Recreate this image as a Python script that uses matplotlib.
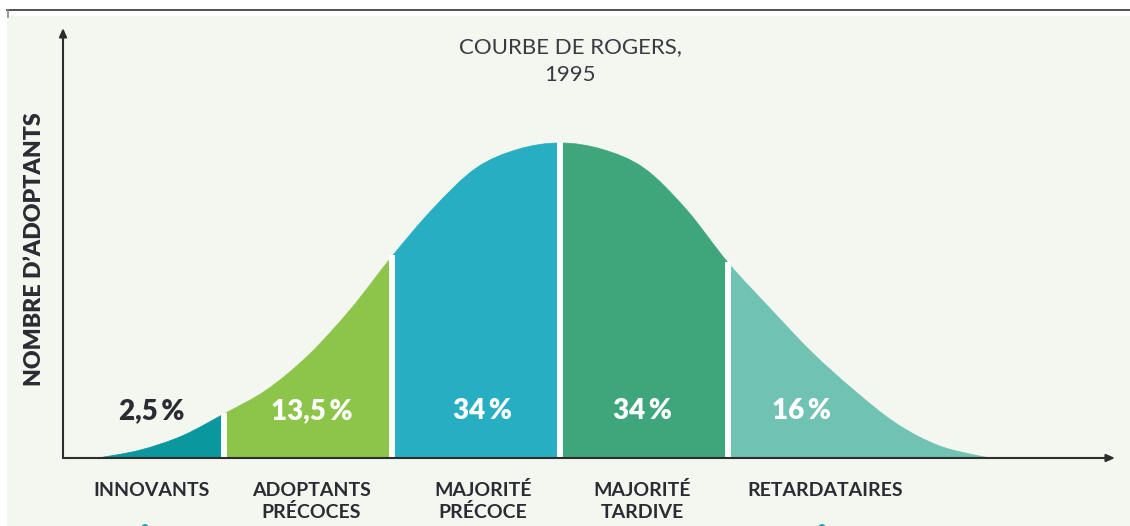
import matplotlib
matplotlib.use("Agg")
import matplotlib.pyplot as plt
from matplotlib.path import Path
from matplotlib.patches import PathPatch, Rectangle, Ellipse

plt.rcParams["font.family"] = ["Lato", "DejaVu Sans"]

# courbe : position (en écarts-types) et nombre relatif d'adoptants
sigma_pos = [-2.75, -2.5, -2.25, -2.0, -1.75, -1.5, -1.25, -1.0, -0.75, -0.5, -0.25, 0.0,
             0.25, 0.5, 0.75, 1.0, 1.25, 1.5, 1.75, 2.0, 2.25, 2.5, 2.6]
adoptants = [0.0, 2.5, 7.0, 14.0, 21.5, 32.5, 47.0, 64.0, 79.5, 92.0, 98.0, 100.0,
             98.0, 92.0, 79.0, 62.0, 47.5, 33.5, 21.5, 11.0, 4.0, 0.6, 0.0]

categories = ["INNOVANTS", "ADOPTANTS\nPRÉCOCES", "MAJORITÉ\nPRÉCOCE", "MAJORITÉ\nTARDIVE", "RETARDATAIRES"]
parts = ["2,5\u2009%", "13,5\u2009%", "34\u2009%", "34\u2009%", "16\u2009%"]
limites = [-2.0, -1.0, 0.0, 1.0]
couleurs = ["#0a979e", "#8cc54a", "#27aec3", "#3ea67a", "#70c2b3"]

BG = "#f4f6f0"
INK = "#2b2b33"

W, H = 1130, 526
fig = plt.figure(figsize=(W / 100, H / 100), dpi=100, facecolor="white")

# fond de la capture d'écran
fig.patches.append(Rectangle((7 / W, 0), 1 - 7 / W, (H - 16) / H, transform=fig.transFigure,
                             facecolor=BG, edgecolor="none", zorder=-5))
fig.add_artist(plt.Line2D([7 / W, 1], [1 - 9.5 / H, 1 - 9.5 / H], transform=fig.transFigure,
                          color="#333333", lw=1.2, zorder=-4))
fig.add_artist(plt.Line2D([7.5 / W, 7.5 / W], [1 - 9.5 / H, 1 - 17 / H], transform=fig.transFigure,
                          color="#888888", lw=1.2, zorder=-4))
for cx in [145, 822]:
    fig.patches.append(Ellipse((cx / W, -2 / H), 8 / W, 8 / H, transform=fig.transFigure,
                               facecolor="#2aa7b5", edgecolor="none", zorder=-4))

# axes : origine à (63, 458) px
x0, x1, ytop, ybase = 63, 1115, 28, 458
ax = fig.add_axes([x0 / W, (H - ybase) / H, (x1 - x0) / W, (ybase - ytop) / H])
ax.set_facecolor("none")
px_per_sigma = 168.0
px_per_unit = 3.15
ax.set_xlim((x0 - 560) / px_per_sigma, (x1 - 560) / px_per_sigma)
ax.set_ylim(0, (ybase - ytop) / px_per_unit)
ax.axis("off")


def tangent(i):
    a = max(i - 1, 0)
    b = min(i + 1, len(sigma_pos) - 1)
    return ((sigma_pos[b] - sigma_pos[a]) / 6, (adoptants[b] - adoptants[a]) / 6)


def segment_path(i0, i1):
    verts = [(sigma_pos[i0], 0), (sigma_pos[i0], adoptants[i0])]
    codes = [Path.MOVETO, Path.LINETO]
    for i in range(i0, i1):
        t0 = tangent(i)
        t1 = tangent(i + 1)
        verts += [(sigma_pos[i] + t0[0], adoptants[i] + t0[1]),
                  (sigma_pos[i + 1] - t1[0], adoptants[i + 1] - t1[1]),
                  (sigma_pos[i + 1], adoptants[i + 1])]
        codes += [Path.CURVE4] * 3
    verts += [(sigma_pos[i1], 0), (sigma_pos[i0], 0)]
    codes += [Path.LINETO, Path.CLOSEPOLY]
    return Path(verts, codes)


bornes = [0] + [sigma_pos.index(b) for b in limites] + [len(sigma_pos) - 1]
for k, c in enumerate(couleurs):
    ax.add_patch(PathPatch(segment_path(bornes[k], bornes[k + 1]), facecolor=c,
                           edgecolor=c, lw=0.5, zorder=2))

for b in limites:
    i = sigma_pos.index(b)
    ax.plot([b, b], [0, adoptants[i] + 0.3], color="white", lw=4.3, zorder=3,
            solid_capstyle="butt")

# flèches des axes
arrow = dict(arrowstyle="-|>,head_length=0.5,head_width=0.22", color="#2d2d2d", lw=1.5,
             shrinkA=0, shrinkB=0)
ax.annotate("", xy=(1, 0), xytext=(0, 0), xycoords="axes fraction", arrowprops=arrow, zorder=5)
ax.annotate("", xy=(0, 1), xytext=(0, 0), xycoords="axes fraction", arrowprops=arrow, zorder=5)

# étiquettes
pct_x = [-2.43, -1.48, -0.46, 0.49, 1.44]
cat_x = [-2.43, -1.48, -0.46, 0.49, 1.58]
pct_y = (ybase - 411) / px_per_unit
ligne_y = [496, 518]
for k in range(5):
    ax.text(pct_x[k], pct_y, parts[k], ha="center", va="center", fontsize=20,
            fontweight="heavy", color=INK if k == 0 else "white", zorder=6)
    for j, ligne in enumerate(categories[k].split("\n")):
        ax.text(cat_x[k], -(ligne_y[j] - ybase) / px_per_unit, ligne, ha="center",
                va="baseline", fontsize=14, fontweight="bold", color=INK, clip_on=False)

fig.text(570 / W, 1 - 53 / H, "COURBE DE ROGERS,", ha="center", va="baseline",
         fontsize=16, color="#3a3a42")
fig.text(570 / W, 1 - 81 / H, "1995", ha="center", va="baseline",
         fontsize=16, color="#3a3a42")
fig.text(35 / W, 1 - 249 / H, "NOMBRE D\u2019ADOPTANTS", ha="center", va="center", rotation=90,
         fontsize=16.7, fontweight="heavy", color=INK)

fig.savefig("out.png", dpi=100, facecolor="white")
